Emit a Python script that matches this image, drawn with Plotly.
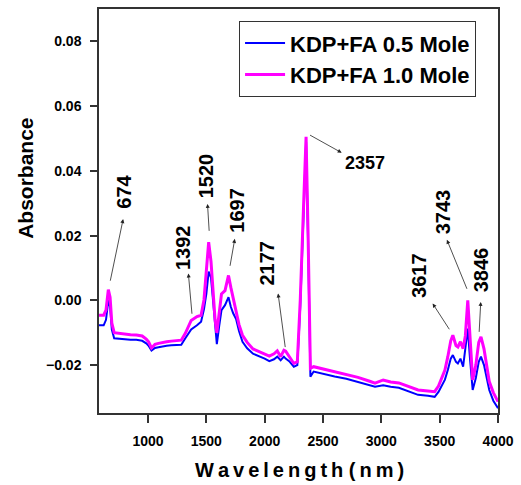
import plotly.graph_objects as go

# Wavelength (nm)
wavelength = [580, 620, 640, 660, 675, 690, 710, 750, 800, 850, 900, 950, 985, 1005, 1030, 1060,
              1090, 1120, 1160, 1200, 1250, 1285, 1320, 1350, 1370, 1420, 1455, 1480, 1500, 1520,
              1540, 1555, 1575, 1590, 1610, 1630, 1660, 1690, 1710, 1730, 1755, 1780, 1810, 1850,
              1900, 1950, 2000, 2040, 2080, 2108, 2137, 2165, 2180, 2210, 2250, 2280, 2305, 2335,
              2355, 2372, 2392, 2420, 2500, 2600, 2700, 2800, 2900, 2946, 3016, 3080, 3150, 3250,
              3315, 3400, 3457, 3490, 3513, 3545, 3570, 3595, 3613, 3640, 3656, 3678, 3701, 3720,
              3741, 3760, 3783, 3810, 3835, 3854, 3880, 3925, 3960, 4000]

# KDP+FA 1.0 Mole (magenta)
abs_10 = [-0.0046, -0.0046, -0.0030, 0.0033, 0.0010, -0.0070, -0.0100, -0.0102, -0.0104, -0.0106,
          -0.0107, -0.0110, -0.0120, -0.0128, -0.0147, -0.0136, -0.0133, -0.0130, -0.0128, -0.0126,
          -0.0124, -0.0123, -0.0102, -0.0080, -0.0062, -0.0050, -0.0046, 0.0002, 0.0080, 0.0180,
          0.0120, 0.0030, -0.0060, -0.0100, -0.0030, 0.0020, 0.0030, 0.0077, 0.0040, 0.0005,
          -0.0036, -0.0075, -0.0108, -0.0130, -0.0150, -0.0158, -0.0165, -0.0172, -0.0165, -0.0156,
          -0.0174, -0.0154, -0.0157, -0.0175, -0.0195, -0.0190, 0.0000, 0.0308, 0.0505, 0.0206,
          -0.0210, -0.0205, -0.0212, -0.0220, -0.0228, -0.0238, -0.0250, -0.0256, -0.0246, -0.0252,
          -0.0255, -0.0268, -0.0277, -0.0280, -0.0282, -0.0265, -0.0246, -0.0215, -0.0174, -0.0125,
          -0.0108, -0.0140, -0.0144, -0.0128, -0.0149, -0.0110, 0.0000, -0.0120, -0.0246, -0.0200,
          -0.0130, -0.0113, -0.0150, -0.0251, -0.0285, -0.0313]

# KDP+FA 0.5 Mole (blue)
abs_05 = [-0.0077, -0.0077, -0.0060, 0.0000, -0.0020, -0.0090, -0.0117, -0.0119, -0.0120, -0.0122,
          -0.0122, -0.0125, -0.0133, -0.0140, -0.0155, -0.0147, -0.0145, -0.0142, -0.0140, -0.0139,
          -0.0138, -0.0137, -0.0117, -0.0102, -0.0090, -0.0077, -0.0066, -0.0027, 0.0020, 0.0089,
          0.0070, 0.0010, -0.0090, -0.0135, -0.0080, -0.0030, -0.0015, 0.0010, -0.0020, -0.0040,
          -0.0058, -0.0095, -0.0128, -0.0148, -0.0165, -0.0172, -0.0180, -0.0188, -0.0182, -0.0174,
          -0.0185, -0.0174, -0.0180, -0.0188, -0.0205, -0.0200, -0.0020, 0.0280, 0.0490, 0.0180,
          -0.0236, -0.0220, -0.0227, -0.0235, -0.0242, -0.0252, -0.0262, -0.0267, -0.0262, -0.0267,
          -0.0270, -0.0283, -0.0292, -0.0295, -0.0298, -0.0283, -0.0267, -0.0245, -0.0215, -0.0180,
          -0.0169, -0.0190, -0.0195, -0.0180, -0.0205, -0.0150, -0.0087, -0.0180, -0.0277, -0.0240,
          -0.0190, -0.0174, -0.0200, -0.0277, -0.0310, -0.0333]

series_names = ["KDP+FA 0.5 Mole", "KDP+FA 1.0 Mole"]
series_colors = ["#0000FF", "#FF00FF"]

# Peak labels: text, text position, arrow head, arrow tail (data units)
peak_labels = ["674", "1392", "1520", "1697", "2177", "2357", "3617", "3743", "3846"]
label_x = [787, 1298, 1497, 1766, 2021, 2861, 3327, 3526, 3852]
label_y = [0.0336, 0.0164, 0.0386, 0.0278, 0.0114, 0.0423, 0.0077, 0.0274, 0.0095]
label_angle = [-90, -90, -90, -90, -90, 0, -90, -90, -90]
head_x = [787, 1346, 1510, 1744, 2115, 2660, 3440, 3562, 3852]
head_y = [0.0251, 0.0083, 0.0298, 0.0190, 0.0021, 0.0456, -0.0010, 0.0187, -0.0005]
tail_x = [674, 1378, 1525, 1701, 2178, 2376, 3591, 3739, 3838]
tail_y = [0.0056, -0.0046, 0.0210, 0.0102, -0.0149, 0.0513, -0.0094, 0.0031, -0.0102]

x_ticks = [1000, 1500, 2000, 2500, 3000, 3500, 4000]
y_ticks = [-0.02, 0.00, 0.02, 0.04, 0.06, 0.08]

FONT = "Liberation Sans, Arial, sans-serif"

fig = go.Figure()
fig.add_trace(go.Scatter(x=wavelength, y=abs_05, mode="lines", name=series_names[0],
                         line=dict(color=series_colors[0], width=2)))
fig.add_trace(go.Scatter(x=wavelength, y=abs_10, mode="lines", name=series_names[1],
                         line=dict(color=series_colors[1], width=3)))

annotations = []
for i, t in enumerate(peak_labels):
    annotations.append(dict(x=head_x[i], y=head_y[i], ax=tail_x[i], ay=tail_y[i],
                            xref="x", yref="y", axref="x", ayref="y", text="",
                            showarrow=True, arrowhead=2, arrowsize=1, arrowwidth=0.8,
                            arrowcolor="#222222", standoff=0, startstandoff=0))
    annotations.append(dict(x=label_x[i], y=label_y[i], xref="x", yref="y", text=t,
                            showarrow=False, textangle=label_angle[i],
                            xanchor="center", yanchor="middle",
                            font=dict(family=FONT, size=20 if label_angle[i] else 18,
                                      color="black", weight="bold")))

annotations.append(dict(x=-0.184, y=0.581, xref="paper", yref="paper", text="Absorbance",
                        showarrow=False, textangle=-90, xanchor="center", yanchor="middle",
                        font=dict(family=FONT, size=21, color="black", weight="bold")))
annotations.append(dict(x=0.502, y=-0.140, xref="paper", yref="paper",
                        text="W\u2009a\u2009v\u2009e\u2009l\u2009e\u2009n\u2009g\u2009t\u2009h (\u2009n\u2009m\u2009)",
                        showarrow=False, xanchor="center", yanchor="middle",
                        font=dict(family=FONT, size=20, color="black", weight="bold")))

fig.update_layout(
    width=521, height=485,
    margin=dict(l=99, r=20, t=7, b=72),
    paper_bgcolor="white", plot_bgcolor="white",
    showlegend=True,
    legend=dict(x=0.351, y=0.97, xanchor="left", yanchor="top",
                bgcolor="white", bordercolor="#333333", borderwidth=1,
                font=dict(family=FONT, size=22, color="black", weight="bold"),
                itemwidth=40, tracegroupgap=0),
    annotations=annotations,
)
fig.update_xaxes(range=[580, 4000], tickvals=x_ticks, ticks="outside", ticklen=8,
                 tickwidth=1.5, tickcolor="#333333", showline=True, linecolor="#333333",
                 linewidth=1.5, mirror=True, showgrid=False, zeroline=False,
                 ticklabelstandoff=6,
                 tickfont=dict(family=FONT, size=14, color="black", weight="bold"))
fig.update_yaxes(range=[-0.0348, 0.09], tickvals=y_ticks, tickformat=".2f", ticks="outside",
                 ticklen=7, tickwidth=1.5, tickcolor="#333333", showline=True,
                 linecolor="#333333", linewidth=1.5, mirror=True, showgrid=False,
                 zeroline=False, ticklabelstandoff=6,
                 tickfont=dict(family=FONT, size=14, color="black", weight="bold"))

fig.write_html("out.html")
